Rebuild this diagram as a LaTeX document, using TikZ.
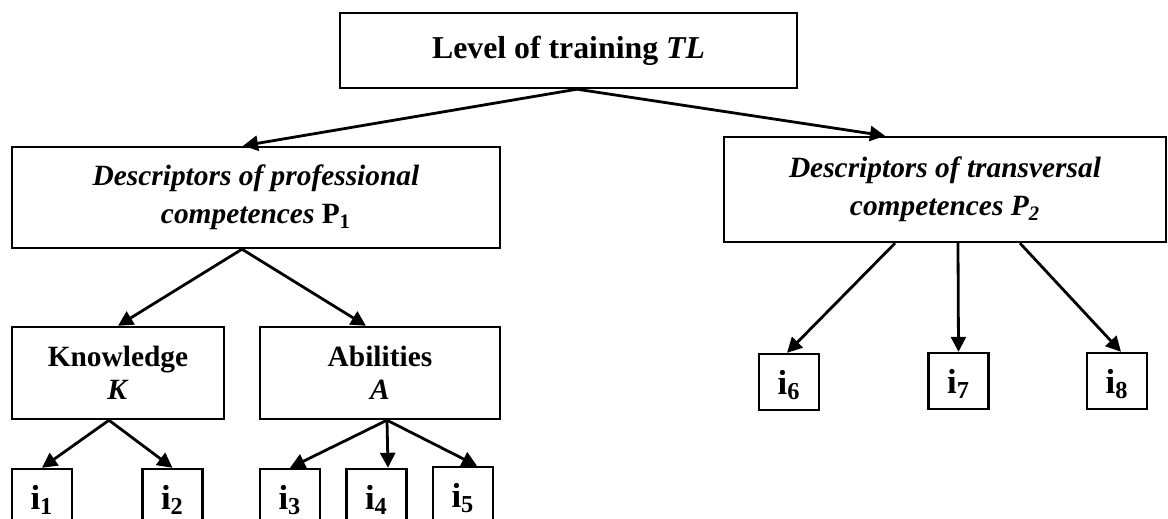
\documentclass[tikz,border=0pt]{standalone}
\usepackage{fontspec}
\setmainfont{Liberation Serif}
\usetikzlibrary{arrows.meta,calc}
\begin{document}
\begin{tikzpicture}[x=0.5pt,y=-0.5pt,
  box/.style={draw,line width=1.2pt,inner sep=0pt,align=center,
    font=\fontsize{14.7}{19}\selectfont\bfseries},
  kbox/.style={box,minimum width=106pt,minimum height=46pt,
    font=\fontsize{14.7}{16.5}\selectfont\bfseries},
  ibox/.style={box,minimum width=30pt,minimum height=28pt,text depth=0pt,
    font=\fontsize{17.4}{20}\selectfont\bfseries},
  conn/.style={line width=1.4pt,-{Triangle[length=7.5pt,width=7.5pt]}}]
\clip (0,0) rectangle (1168,519);
\useasboundingbox (0,0) rectangle (1168,519);
% boxes
\node[box,font=\fontsize{15.9}{19}\selectfont\bfseries,
  minimum width=228.5pt,minimum height=37.5pt] (tl) at (568.5,50.5)
  {Level of training \textit{TL}};
\node[box,minimum width=244pt,minimum height=50.5pt] (p1) at (256,197.5)
  {\textit{Descriptors of professional}\\\textit{competences} P\textsubscript{1}};
\node[box,minimum width=221pt,minimum height=52.5pt] (p2) at (945,189.5)
  {\textit{Descriptors of transversal}\\\textit{competences P\textsubscript{2}}};
\node[kbox] (kn) at (118,373) {Knowledge\\\textit{K}};
\node[kbox,minimum width=120pt] (ab) at (380,373) {Abilities\\\textit{A}};
\node[ibox] (i1) at (42,497) {i\textsubscript{1}};
\node[ibox] (i2) at (172.5,497) {i\textsubscript{2}};
\node[ibox] (i3) at (290,497) {i\textsubscript{3}};
\node[ibox] (i4) at (376.5,497) {i\textsubscript{4}};
\node[ibox] (i5) at (463,495) {i\textsubscript{5}};
\node[ibox] (i6) at (789,382) {i\textsubscript{6}};
\node[ibox] (i7) at (958.5,381) {i\textsubscript{7}};
\node[ibox] (i8) at (1117,381) {i\textsubscript{8}};
% connectors
\draw[conn] ($(tl.south)+(8.5,0)$) -- ($(p1.north)+(-13,0)$);
\draw[conn] ($(tl.south)+(8.5,0)$) -- ($(p2.north)+(-60,0)$);
\draw[conn] ($(p1.south)+(-14,0)$) -- (kn.north);
\draw[conn] ($(p1.south)+(-14,0)$) -- ($(ab.north)+(-14,0)$);
\draw[conn] ($(kn.south)+(-9,0)$) -- (i1.north);
\draw[conn] ($(kn.south)+(-9,0)$) -- (i2.north);
\draw[conn] ($(ab.south)+(7,0)$) -- (i3.north);
\draw[conn] ($(ab.south)+(7,0)$) -- ($(i4.north)+(11.5,0)$);
\draw[conn] ($(ab.south)+(7,0)$) -- ($(i5.north)+(14,0)$);
\draw[conn] ($(p2.south)+(-50,0)$) -- ($(i6.north)+(-2,0)$);
\draw[conn] ($(p2.south)+(13,0)$) -- (i7.north);
\draw[conn] ($(p2.south)+(75,0)$) -- ($(i8.north)+(4,0)$);
\end{tikzpicture}
\end{document}
